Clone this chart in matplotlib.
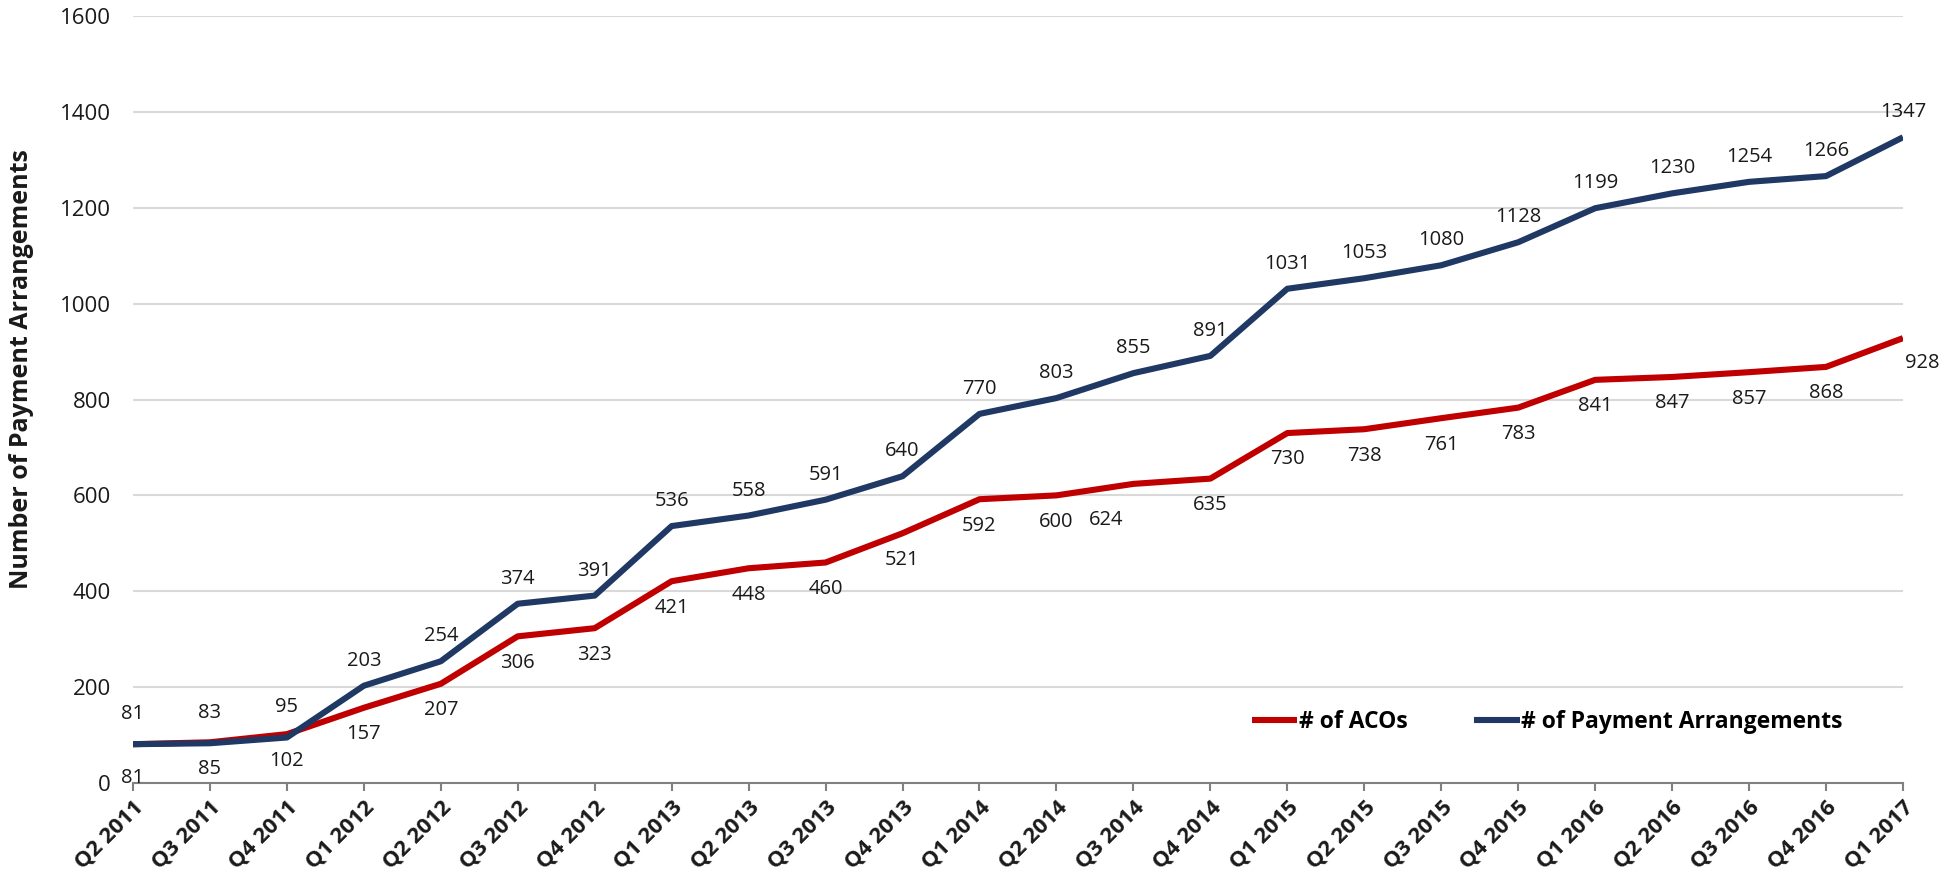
import matplotlib.pyplot as plt
import numpy as np

plt.rcParams["font.family"] = ["Open Sans", "DejaVu Sans"]

quarters = [
    "Q2 2011", "Q3 2011", "Q4 2011", "Q1 2012", "Q2 2012", "Q3 2012",
    "Q4 2012", "Q1 2013", "Q2 2013", "Q3 2013", "Q4 2013", "Q1 2014",
    "Q2 2014", "Q3 2014", "Q4 2014", "Q1 2015", "Q2 2015", "Q3 2015",
    "Q4 2015", "Q1 2016", "Q2 2016", "Q3 2016", "Q4 2016", "Q1 2017",
]
acos = [81, 85, 102, 157, 207, 306, 323, 421, 448, 460, 521, 592,
        600, 624, 635, 730, 738, 761, 783, 841, 847, 857, 868, 928]
payments = [81, 83, 95, 203, 254, 374, 391, 536, 558, 591, 640, 770,
            803, 855, 891, 1031, 1053, 1080, 1128, 1199, 1230, 1254, 1266, 1347]

RED = "#C00000"
NAVY = "#1F3864"
INK = "#1a1a1a"

fig = plt.figure(figsize=(19.44, 8.82), dpi=100)
ax = fig.add_axes([0.0684, 0.1122, 0.9105, 0.8697])

x = np.arange(len(quarters))
ax.plot(x, acos, color=RED, linewidth=4.4, solid_capstyle="butt",
        label="# of ACOs", zorder=3)
ax.plot(x, payments, color=NAVY, linewidth=4.4, solid_capstyle="butt",
        label="# of Payment Arrangements", zorder=4)

# data labels: payments above, ACOs below
for i, v in enumerate(payments):
    dy = 22 if i < 3 else 18
    ax.annotate(str(v), (x[i], v), xytext=(0, dy), textcoords="offset points",
                ha="center", va="center", fontsize=14.5, color=INK)

red_offsets = {13: (-20, -26), 23: (14, -18)}
for i, v in enumerate(acos):
    dx, dy = red_offsets.get(i, (0, -19))
    if i == 0:
        dy = -24
    ax.annotate(str(v), (x[i], v), xytext=(dx, dy), textcoords="offset points",
                ha="center", va="center", fontsize=14.5, color=INK)

ax.set_xlim(0, len(quarters) - 1)
ax.set_ylim(0, 1600)
ax.set_yticks(np.arange(0, 1601, 200))
ax.grid(axis="y", color="#D9D9D9", linewidth=1.5, zorder=0)
ax.set_axisbelow(True)

for s in ["top", "right", "left"]:
    ax.spines[s].set_visible(False)
ax.spines["bottom"].set_color("#808080")
ax.spines["bottom"].set_linewidth(1.5)

ax.tick_params(axis="y", length=0, pad=16, labelsize=16, labelcolor=INK)
ax.tick_params(axis="x", length=6, width=1.5, color="#808080", pad=4,
               labelsize=16, labelcolor=INK)
ax.set_xticks(x)
ax.set_xticklabels(quarters, rotation=45, ha="right", va="top",
                   rotation_mode="anchor", fontweight="bold")

ax.set_ylabel("Number of Payment Arrangements", fontsize=18, fontweight="bold",
              color=INK)
ax.yaxis.set_label_coords(-0.056, 0.54)

ax.legend(loc="center left", bbox_to_anchor=(0.632, 0.0795), ncol=2,
          frameon=False, prop={"weight": "bold", "size": 16.5},
          handlelength=2.0, handletextpad=0.05, columnspacing=2.9,
          borderpad=0, borderaxespad=0)

fig.savefig("out.png", dpi=100)
